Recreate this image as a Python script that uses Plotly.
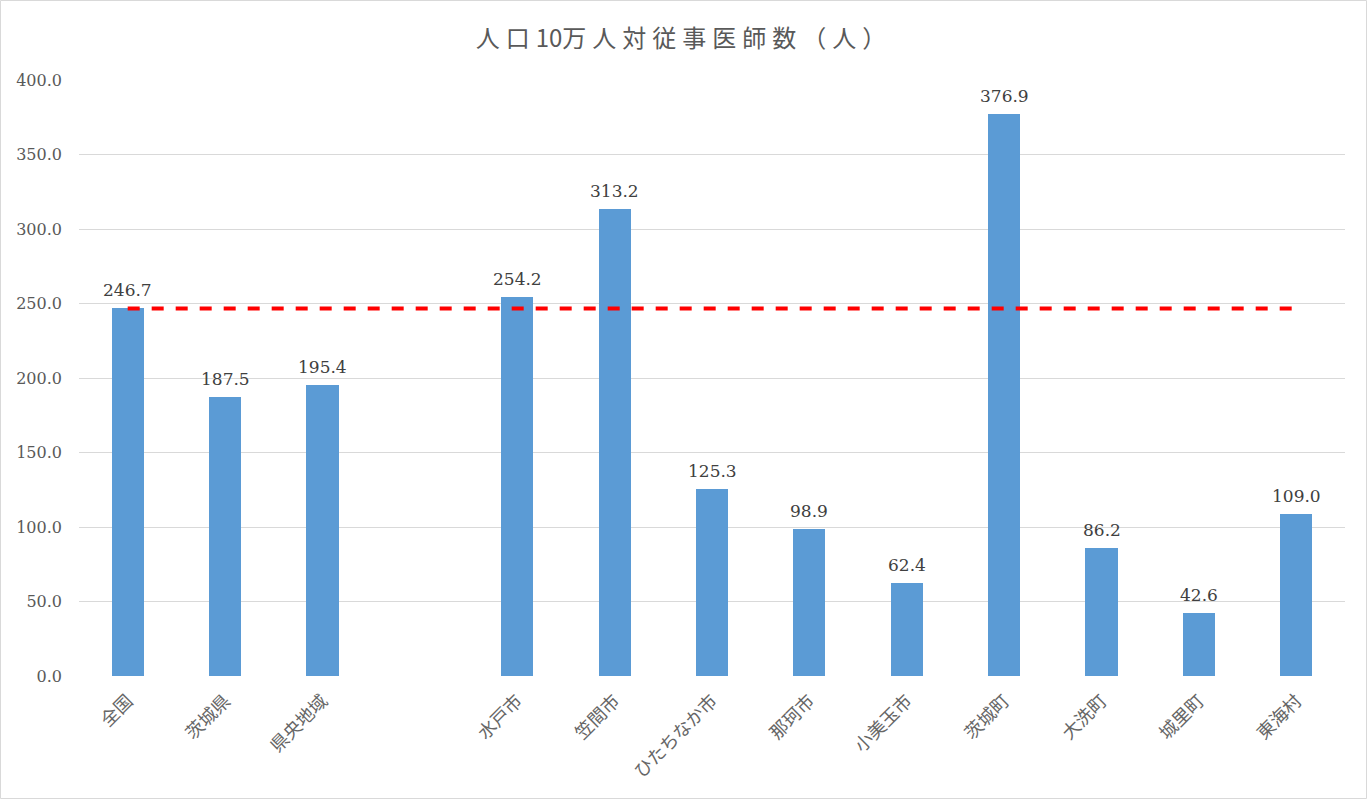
import plotly.graph_objects as go

categories = ["全国", "茨城県", "県央地域", "", "水戸市", "笠間市", "ひたちなか市", "那珂市",
              "小美玉市", "茨城町", "大洗町", "城里町", "東海村"]
values = [246.7, 187.5, 195.4, None, 254.2, 313.2, 125.3, 98.9, 62.4, 376.9, 86.2, 42.6, 109.0]
national_avg = 246.7
yticks = [0, 50, 100, 150, 200, 250, 300, 350, 400]

W, H = 1368, 800
ml, mr, mt, mb = 79, 23, 80, 124
SERIF = "DejaVu Serif, Liberation Serif, serif"

xs = list(range(len(categories)))
bx = [x for x, v in zip(xs, values) if v is not None]
bv = [v for v in values if v is not None]

fig = go.Figure()
fig.add_trace(go.Bar(
    x=bx, y=bv, width=0.33, marker=dict(color="#5b9bd5", line=dict(width=0)),
    hoverinfo="skip"))
fig.add_trace(go.Scatter(
    x=[xs[0], xs[-1]], y=[national_avg, national_avg], mode="lines",
    line=dict(color="#ff0000", width=4, dash="dash"), hoverinfo="skip"))

annotations = [dict(x=x, y=v, xref="x", yref="y", text=f"{v:.1f}", showarrow=False,
                    yanchor="middle", yshift=18,
                    font=dict(family=SERIF, size=17, color="#404040"))
               for x, v in zip(bx, bv)]

ls = '<span style="letter-spacing:6px">'
title_text = f'{ls}人口</span>10{ls}万人対従事医師数（人）</span>'

pw = W - ml - mr
ph = H - mt - mb
fig.update_layout(
    width=W, height=H, margin=dict(l=ml, r=mr, t=mt, b=mb),
    paper_bgcolor="white", plot_bgcolor="white", showlegend=False, bargap=0,
    title=dict(text=title_text,
               x=0.5, xanchor="center", y=1 - 39 / H, yanchor="middle",
               font=dict(family="Noto Sans CJK JP", size=24, color="#595959")),
    xaxis=dict(range=[-0.5, len(categories) - 0.5], tickmode="array", tickvals=xs, ticktext=categories,
               tickangle=-45, showgrid=False, zeroline=False, showline=False, ticks="",
               ticklabelstandoff=10,
               tickfont=dict(family="Noto Sans CJK JP", size=18, color="#666666")),
    yaxis=dict(range=[0, 400], tickmode="array", tickvals=yticks, ticktext=[f"{t:.1f}" for t in yticks],
               showgrid=True, gridcolor="#d9d9d9", gridwidth=1, zeroline=False, showline=False, ticks="",
               ticklabelstandoff=16,
               tickfont=dict(family=SERIF, size=16, color="#595959")),
    annotations=annotations,
    shapes=[dict(type="rect", xref="paper", yref="paper",
                 x0=(0.5 - ml) / pw, x1=(W - 1.5 - ml) / pw,
                 y0=-(mb - 1.5) / ph, y1=(H - 0.5 - mb) / ph,
                 line=dict(color="#d9d9d9", width=1), fillcolor="rgba(0,0,0,0)", layer="below")],
)

fig.write_html("out.html", config={"displayModeBar": False},
               post_script="document.body.style.margin='0';")
